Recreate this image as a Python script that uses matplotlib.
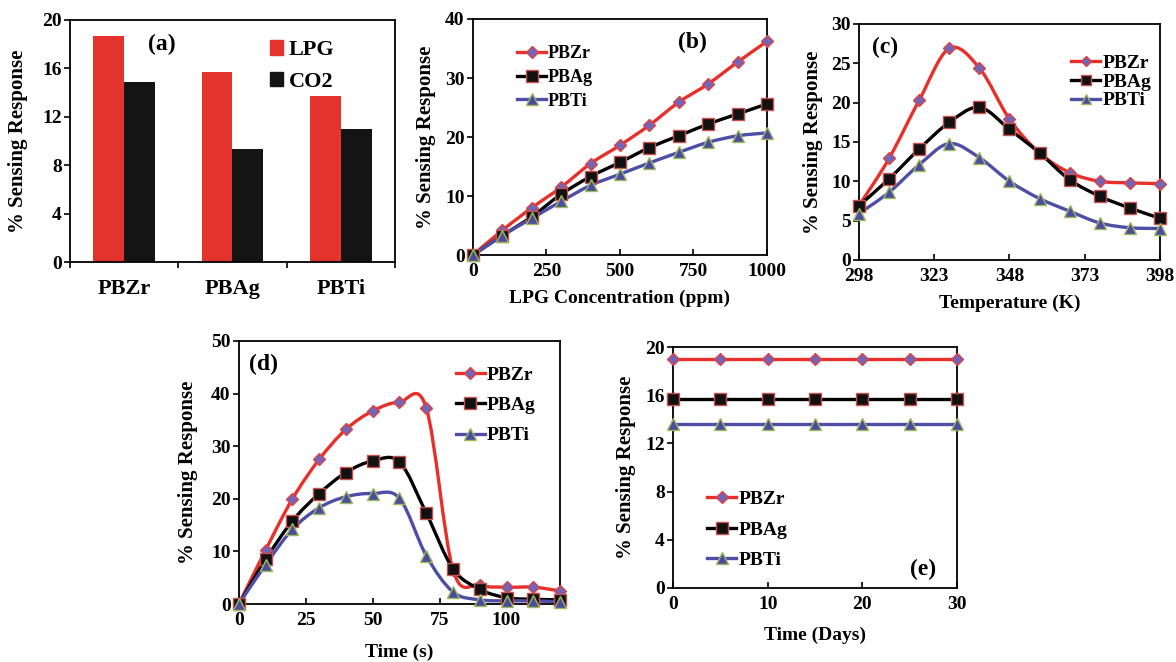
import numpy as np
import matplotlib
matplotlib.use("Agg")
import matplotlib.pyplot as plt
from matplotlib.path import Path
from matplotlib.patches import PathPatch, Patch
from matplotlib.lines import Line2D

plt.rcParams['font.family'] = ['Liberation Serif', 'DejaVu Serif']
plt.rcParams['font.weight'] = 'bold'
plt.rcParams['axes.labelweight'] = 'bold'

# ---------------- data ----------------
materials = ['PBZr', 'PBAg', 'PBTi']
gases = ['LPG', 'CO2']
resp_lpg = [18.7, 15.7, 13.7]
resp_co2 = [14.9, 9.3, 11.0]

conc_ppm = [0, 100, 200, 300, 400, 500, 600, 700, 800, 900, 1000]
conc_pbzr = [0, 4.2, 8.0, 11.5, 15.5, 18.6, 22.0, 25.9, 29.0, 32.7, 36.2]
conc_pbag = [0, 3.3, 6.5, 10.3, 13.3, 15.7, 18.2, 20.2, 22.2, 23.9, 25.6]
conc_pbti = [0, 3.3, 6.2, 9.1, 11.8, 13.7, 15.6, 17.4, 19.1, 20.2, 20.7]

temp_k = [298, 308, 318, 328, 338, 348, 358, 368, 378, 388, 398]
temp_pbzr = [6.9, 12.9, 20.3, 26.9, 24.4, 17.9, 13.6, 11.1, 10.0, 9.8, 9.7]
temp_pbag = [6.9, 10.3, 14.1, 17.5, 19.4, 16.6, 13.6, 10.2, 8.1, 6.6, 5.3]
temp_pbti = [5.9, 8.6, 12.1, 14.8, 13.0, 10.0, 7.8, 6.2, 4.7, 4.1, 4.0]

time_s = [0, 10, 20, 30, 40, 50, 60, 70, 80, 90, 100, 110, 120]
time_pbzr = [0, 10.3, 20.0, 27.5, 33.2, 36.7, 38.4, 37.3, 6.5, 3.6, 3.2, 3.2, 2.5]
time_pbag = [0, 8.5, 15.8, 21.0, 25.0, 27.2, 27.0, 17.3, 6.7, 2.8, 1.2, 0.9, 0.8]
time_pbti = [0, 7.5, 14.2, 18.3, 20.4, 21.0, 20.1, 9.2, 2.3, 0.8, 0.6, 0.6, 0.4]

days = [0, 5, 10, 15, 20, 25, 30]
days_pbzr = [19.0, 19.0, 19.0, 19.0, 19.0, 19.0, 19.0]
days_pbag = [15.7, 15.7, 15.7, 15.7, 15.7, 15.7, 15.7]
days_pbti = [13.6, 13.6, 13.6, 13.6, 13.6, 13.6, 13.6]

# ---------------- styles ----------------
RED = '#E8302A'
BAR_RED = '#E4322C'
BAR_BLACK = '#141414'
BLUE = '#4E4EA6'
styles = {
    'PBZr': dict(color=RED, marker='D', ms=6, mfc='#7264B8', mec='#E04040', mew=1.0),
    'PBAg': dict(color='black', marker='s', ms=8, mfc='#111111', mec='#C8504D', mew=1.0),
    'PBTi': dict(color=BLUE, marker='^', ms=8, mfc='#4B4BA0', mec='#9BBB59', mew=1.0),
}
LW = 2.4
TICK_FS = 14
LAB_FS = 14


def smooth_path(x, y):
    pts = np.column_stack([x, y]).astype(float)
    n = len(pts)
    verts = [pts[0]]
    codes = [Path.MOVETO]
    for i in range(n - 1):
        p0 = pts[i - 1] if i > 0 else pts[i]
        p1 = pts[i]
        p2 = pts[i + 1]
        p3 = pts[i + 2] if i + 2 < n else pts[i + 1]
        c1 = p1 + (p2 - p0) / 6.0
        c2 = p2 - (p3 - p1) / 6.0
        verts += [c1, c2, p2]
        codes += [Path.CURVE4] * 3
    return Path(verts, codes)


def draw_series(ax, x, y, name, smooth=True):
    st = styles[name]
    if smooth:
        patch = PathPatch(smooth_path(x, y), facecolor='none', edgecolor=st['color'],
                          lw=LW, transform=ax.transData, zorder=2, clip_on=False)
        ax.add_patch(patch)
    else:
        ax.plot(x, y, color=st['color'], lw=LW, zorder=2, clip_on=False)
    ax.plot(x, y, ls='none', marker=st['marker'], ms=st['ms'], mfc=st['mfc'],
            mec=st['mec'], mew=st['mew'], zorder=3, clip_on=False)


def legend_handles(scale=1.0):
    hs = []
    for name in materials:
        st = styles[name]
        hs.append(Line2D([0], [0], color=st['color'], lw=LW, marker=st['marker'],
                         ms=st['ms'] * scale, mfc=st['mfc'], mec=st['mec'], mew=st['mew']))
    return hs


def style_axes(ax, xdir='in'):
    for s in ax.spines.values():
        s.set_linewidth(1.3)
        s.set_color('black')
    ax.tick_params(axis='y', direction='out', length=4, width=1.2, labelsize=TICK_FS, pad=2)
    ax.tick_params(axis='x', direction=xdir, length=4, width=1.2, labelsize=TICK_FS, pad=6)


fig = plt.figure(figsize=(11.76, 6.62), dpi=100)

# ---------------- (a) ----------------
ax = fig.add_axes([0.0595, 0.6042, 0.2764, 0.3656])
xc = np.arange(len(materials))
w = 0.285
ax.bar(xc - w / 2, resp_lpg, width=w, color=BAR_RED, label=gases[0])
ax.bar(xc + w / 2, resp_co2, width=w, color=BAR_BLACK, label=gases[1])
ax.set_xlim(-0.5, 2.5)
ax.set_ylim(0, 20)
ax.set_yticks([0, 4, 8, 12, 16, 20])
ax.set_xticks([-0.5, 0.5, 1.5, 2.5])
ax.set_xticklabels([])
ax.set_xticks(xc, minor=True)
ax.set_xticklabels(materials, minor=True, fontsize=16, fontweight='bold')
style_axes(ax, xdir='out')
ax.tick_params(axis='x', which='minor', length=0, pad=12)
ax.set_ylabel('% Sensing Response', fontsize=15)
ax.yaxis.set_label_coords(-0.128, 0.5)
ax.text(0.283, 0.90, '(a)', transform=ax.transAxes, fontsize=17, ha='center', va='center')
ax.legend(handles=[Patch(color=BAR_RED), Patch(color=BAR_BLACK)], labels=gases,
          loc='upper left', bbox_to_anchor=(0.615, 0.916), frameon=False, fontsize=16,
          handlelength=0.6, handleheight=0.6, handletextpad=0.25, labelspacing=0.53,
          borderpad=0, borderaxespad=0)

# ---------------- (b) ----------------
ax = fig.add_axes([0.4022, 0.6148, 0.25, 0.3565])
draw_series(ax, conc_ppm, conc_pbzr, 'PBZr')
draw_series(ax, conc_ppm, conc_pbag, 'PBAg')
draw_series(ax, conc_ppm, conc_pbti, 'PBTi')
ax.set_xlim(0, 1000)
ax.set_ylim(0, 40)
ax.set_xticks([0, 250, 500, 750, 1000])
ax.set_yticks([0, 10, 20, 30, 40])
style_axes(ax)
ax.set_xlabel('LPG Concentration (ppm)', fontsize=LAB_FS)
ax.xaxis.set_label_coords(0.5, -0.145)
ax.xaxis.label.set_va('top')
ax.set_ylabel('% Sensing Response', fontsize=15)
ax.yaxis.set_label_coords(-0.126, 0.5)
ax.text(0.745, 0.90, '(b)', transform=ax.transAxes, fontsize=17, ha='center', va='center')
ax.legend(handles=legend_handles(), labels=materials, loc='upper left',
          bbox_to_anchor=(0.15, 0.888), frameon=False, fontsize=13,
          handlelength=1.6, handletextpad=0.1, labelspacing=0.37,
          borderpad=0, borderaxespad=0)

# ---------------- (c) ----------------
ax = fig.add_axes([0.7304, 0.6073, 0.256, 0.3565])
draw_series(ax, temp_k, temp_pbzr, 'PBZr')
draw_series(ax, temp_k, temp_pbag, 'PBAg')
draw_series(ax, temp_k, temp_pbti, 'PBTi')
ax.set_xlim(298, 398)
ax.set_ylim(0, 30)
ax.set_xticks([298, 323, 348, 373, 398])
ax.set_yticks([0, 5, 10, 15, 20, 25, 30])
style_axes(ax)
ax.set_xlabel('Temperature (K)', fontsize=LAB_FS)
ax.xaxis.set_label_coords(0.5, -0.145)
ax.set_ylabel('% Sensing Response', fontsize=15)
ax.yaxis.set_label_coords(-0.12, 0.5)
ax.text(0.045, 0.90, '(c)', transform=ax.transAxes, fontsize=17, ha='left', va='center')
ax.legend(handles=legend_handles(0.85), labels=materials, loc='upper left',
          bbox_to_anchor=(0.705, 0.87), frameon=False, fontsize=14,
          handlelength=1.5, handletextpad=0.1, labelspacing=0.05,
          borderpad=0, borderaxespad=0)

# ---------------- (d) ----------------
ax = fig.add_axes([0.2032, 0.0876, 0.273, 0.3973])
draw_series(ax, time_s, time_pbzr, 'PBZr')
draw_series(ax, time_s, time_pbag, 'PBAg')
draw_series(ax, time_s, time_pbti, 'PBTi')
ax.set_xlim(0, 120)
ax.set_ylim(0, 50)
ax.set_xticks([0, 25, 50, 75, 100])
ax.set_yticks([0, 10, 20, 30, 40, 50])
style_axes(ax)
ax.set_xlabel('Time (s)', fontsize=LAB_FS)
ax.xaxis.set_label_coords(0.5, -0.15)
ax.set_ylabel('% Sensing Response', fontsize=15)
ax.yaxis.set_label_coords(-0.128, 0.5)
ax.text(0.03, 0.909, '(d)', transform=ax.transAxes, fontsize=17, ha='left', va='center')
ax.legend(handles=legend_handles(), labels=materials, loc='upper left',
          bbox_to_anchor=(0.675, 0.905), frameon=False, fontsize=14,
          handlelength=1.5, handletextpad=0.1, labelspacing=0.66,
          borderpad=0, borderaxespad=0)

# ---------------- (e) ----------------
ax = fig.add_axes([0.5723, 0.1118, 0.2415, 0.364])
draw_series(ax, days, days_pbzr, 'PBZr', smooth=False)
draw_series(ax, days, days_pbag, 'PBAg', smooth=False)
draw_series(ax, days, days_pbti, 'PBTi', smooth=False)
ax.set_xlim(0, 30)
ax.set_ylim(0, 20)
ax.set_xticks([0, 10, 20, 30])
ax.set_yticks([0, 4, 8, 12, 16, 20])
style_axes(ax)
ax.set_xlabel('Time (Days)', fontsize=LAB_FS)
ax.xaxis.set_label_coords(0.5, -0.16)
ax.set_ylabel('% Sensing Response', fontsize=15)
ax.yaxis.set_label_coords(-0.13, 0.5)
ax.text(0.88, 0.075, '(e)', transform=ax.transAxes, fontsize=17, ha='center', va='center')
ax.legend(handles=legend_handles(), labels=materials, loc='upper left',
          bbox_to_anchor=(0.12, 0.404), frameon=False, fontsize=14,
          handlelength=1.5, handletextpad=0.1, labelspacing=0.66,
          borderpad=0, borderaxespad=0)

fig.savefig('out.png', dpi=100)
